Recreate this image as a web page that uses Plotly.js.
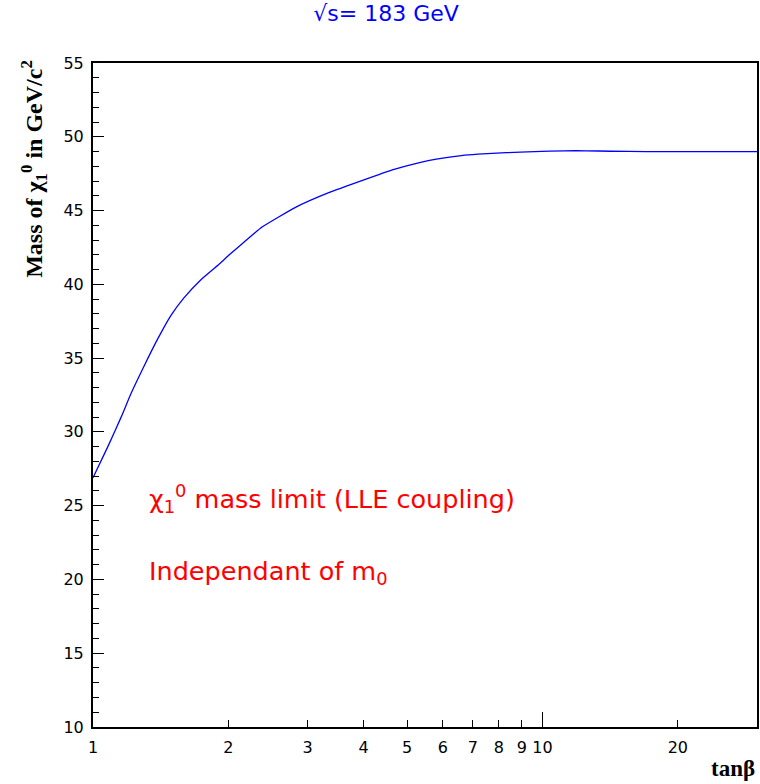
<!DOCTYPE html>
<html>
<head>
<meta charset="utf-8">
<script src="https://cdn.plot.ly/plotly-3.0.1.min.js"></script>
<style>body{margin:0;padding:0;background:#fff}#chart{width:760px;height:784px}</style>
</head>
<body>
<div id="chart"></div>
<script>
// tan(beta) values and neutralino mass limit (GeV/c^2)
const tanBeta = [1.0, 1.079, 1.155, 1.215, 1.301, 1.393, 1.491, 1.595, 1.736, 1.922, 2.01, 2.166, 2.381, 2.822, 3.345, 3.963, 4.697, 5.568, 6.598, 7.18, 8.3, 9.6, 11.2, 12.5, 14.2, 17.0, 22.0, 30.0];
const massLimit = [26.9, 29.0, 31.0, 32.6, 34.5, 36.3, 37.9, 39.1, 40.3, 41.45, 42.0, 42.85, 43.9, 45.22, 46.21, 47.03, 47.8, 48.38, 48.72, 48.82, 48.92, 48.99, 49.05, 49.05, 49.02, 49.0, 49.0, 49.0];
const xTickVals = [1, 2, 3, 4, 5, 6, 7, 8, 9, 10, 20];
const xTickText = ["1", "2", "3", "4", "5", "6", "7", "8", "9", "10", "20"];
const yTickVals = [10, 15, 20, 25, 30, 35, 40, 45, 50, 55];

const trace = {
  x: tanBeta, y: massLimit, type: 'scatter', mode: 'lines',
  line: {color: '#0000ff', width: 1.3, shape: 'spline', smoothing: 0.4},
  hoverinfo: 'skip', showlegend: false
};

const SANS = 'DejaVu Sans, Liberation Sans, Arial, sans-serif';
const SERIF = 'Liberation Serif, Times New Roman, serif';
const xmax = 30;
const layout = {
  width: 760, height: 784,
  margin: {l: 93, r: 3, t: 63, b: 57},
  paper_bgcolor: '#fff', plot_bgcolor: '#fff',
  font: {family: SANS, color: '#000'},
  title: {text: '√s= 183 GeV', font: {size: 22, color: '#0000ff', family: SANS},
          x: 0.508, xref: 'container', xanchor: 'center', y: 1 - 13/784, yref: 'container', yanchor: 'middle'},
  xaxis: {
    type: 'log', range: [0, Math.log10(xmax)],
    tickvals: xTickVals, ticktext: xTickText,
    ticks: 'inside', ticklen: 7, tickwidth: 1, tickcolor: '#000',
    showline: true, linewidth: 2, linecolor: '#000', mirror: true,
    showgrid: false, zeroline: false,
    tickfont: {size: 16, family: SANS},
    ticklabelstandoff: 5
  },
  yaxis: {
    range: [10, 55],
    tickvals: yTickVals,
    ticks: 'inside', ticklen: 11, tickwidth: 1, tickcolor: '#000',
    minor: {dtick: 1, ticks: 'inside', ticklen: 6, tickwidth: 1, tickcolor: '#000', showgrid: false},
    showline: true, linewidth: 2, linecolor: '#000', mirror: true,
    showgrid: false, zeroline: false,
    tickfont: {size: 16, family: SANS},
    ticklabelstandoff: 4
  },
  shapes: [
    {type: 'line', xref: 'paper', yref: 'paper', x0: 1/Math.log10(xmax), x1: 1/Math.log10(xmax), y0: 0, y1: 15/664,
     line: {color: '#000', width: 1}}
  ],
  annotations: [
    {text: 'Mass of χ<sub>1</sub><sup>0</sup> in GeV/c<sup>2</sup>', xref: 'paper', yref: 'paper',
     x: -0.088, y: 0.84, textangle: -90, showarrow: false, xanchor: 'center', yanchor: 'middle',
     font: {size: 24, family: SERIF, weight: 'bold', color: '#000'}},
    {text: 'tanβ', xref: 'paper', yref: 'paper', x: 1.0, y: -0.062, xanchor: 'right', yanchor: 'middle', showarrow: false,
     font: {size: 23, family: SERIF, weight: 'bold', color: '#000'}},
    {text: 'χ<sub>1</sub><sup>0</sup> mass limit (LLE coupling)', xref: 'x', yref: 'y', x: Math.log10(1.32), y: 25.5,
     xanchor: 'left', yanchor: 'middle', showarrow: false,
     font: {size: 25.5, color: '#ff0000', family: SANS}},
    {text: 'Independant of m<sub>0</sub>', xref: 'x', yref: 'y', x: Math.log10(1.32), y: 20.5,
     xanchor: 'left', yanchor: 'middle', showarrow: false,
     font: {size: 25.5, color: '#ff0000', family: SANS}}
  ]
};

Plotly.newPlot('chart', [trace], layout, {staticPlot: true, displayModeBar: false});
</script>
</body>
</html>
